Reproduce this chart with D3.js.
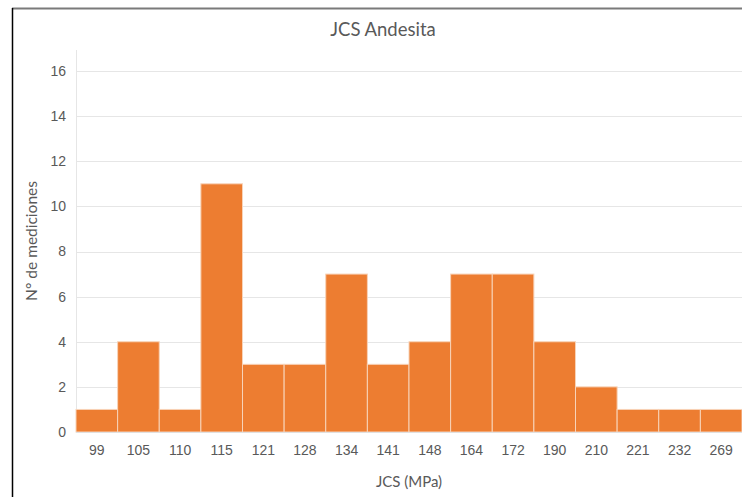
<!DOCTYPE html>
<html>
<head>
<meta charset="utf-8">
<script src="https://cdn.jsdelivr.net/npm/d3@7"></script>
<style>
  body { margin: 0; background: #fff; }
  svg { display: block; font-family: Lato, "Open Sans", sans-serif; }
</style>
</head>
<body>
<div class="container"></div>
<script>
// data
var categories = ["99","105","110","115","121","128","134","141","148","164","172","190","210","221","232","269"];
var counts = [1, 4, 1, 11, 3, 3, 7, 3, 4, 7, 7, 4, 2, 1, 1, 1];
var yTicks = [0, 2, 4, 6, 8, 10, 12, 14, 16];
var title = "JCS Andesita";
var xTitle = "JCS (MPa)";
var yTitle = "N° de mediciones";

var width = 742;
var height = 497;
var margin = {top: 71, right: 0, bottom: 65, left: 76};

var svg = d3.select(".container")
  .append("svg")
  .attr("width", width).attr("height", height);

// outer frame (top and left edges visible in the reference)
svg.append("line")
  .attr("x1", 12).attr("x2", width).attr("y1", 8.5).attr("y2", 8.5)
  .attr("stroke", "#7a7a7a").attr("stroke-width", 2);
svg.append("line")
  .attr("x1", 12.5).attr("x2", 12.5).attr("y1", 8).attr("y2", height)
  .attr("stroke", "#000").attr("stroke-width", 1.5);

var xScale = d3.scaleBand()
  .domain(categories)
  .range([margin.left, width - margin.right])
  .padding(0);
var yScale = d3.scaleLinear()
  .domain([0, 16])
  .range([height - margin.bottom, margin.top]);

// gridlines
svg.append("g").selectAll("line")
  .data(yTicks.slice(1))
  .enter().append("line")
  .attr("x1", margin.left).attr("x2", width)
  .attr("y1", d => Math.round(yScale(d)) + 0.5)
  .attr("y2", d => Math.round(yScale(d)) + 0.5)
  .attr("stroke", "#e6e6e6").attr("stroke-width", 1);

// y axis line (extends a bit above the top tick)
svg.append("line")
  .attr("x1", margin.left + 0.5).attr("x2", margin.left + 0.5)
  .attr("y1", 50).attr("y2", yScale(0))
  .attr("stroke", "#e6e6e6");

// bars
svg.append("g").selectAll("rect")
  .data(counts)
  .enter().append("rect")
  .attr("x", (d, i) => xScale(categories[i]))
  .attr("y", d => yScale(d))
  .attr("width", xScale.bandwidth())
  .attr("height", d => yScale(0) - yScale(d))
  .attr("fill", "#ed7d31")
  .attr("stroke", "#f8d3b8")
  .attr("stroke-width", 1);

// x axis baseline
svg.append("line")
  .attr("x1", margin.left).attr("x2", width)
  .attr("y1", yScale(0) + 0.5).attr("y2", yScale(0) + 0.5)
  .attr("stroke", "#e0e0e0");

var yAxis = d3.axisLeft(yScale).tickValues(yTicks).tickSize(0).tickPadding(10);
var xAxis = d3.axisBottom(xScale).tickSize(0).tickPadding(13);

var gy = svg.append("g")
  .attr("transform", "translate(" + margin.left + ",0)")
  .call(yAxis);
var gx = svg.append("g")
  .attr("transform", "translate(0," + yScale(0) + ")")
  .call(xAxis);
[gx, gy].forEach(function(g){
  g.select(".domain").remove();
  g.selectAll("text").attr("fill", "#595959").style("font-size", "14px");
});

// titles
svg.append("text")
  .attr("x", 383).attr("y", 36)
  .attr("text-anchor", "middle")
  .attr("fill", "#595959").style("font-size", "18.5px")
  .text(title);
svg.append("text")
  .attr("x", 409).attr("y", 487)
  .attr("text-anchor", "middle")
  .attr("fill", "#595959").style("font-size", "15px")
  .text(xTitle);
svg.append("text")
  .attr("transform", "translate(37,241) rotate(-90)")
  .attr("text-anchor", "middle")
  .attr("fill", "#595959").style("font-size", "15.5px")
  .text(yTitle);
</script>
</body>
</html>
